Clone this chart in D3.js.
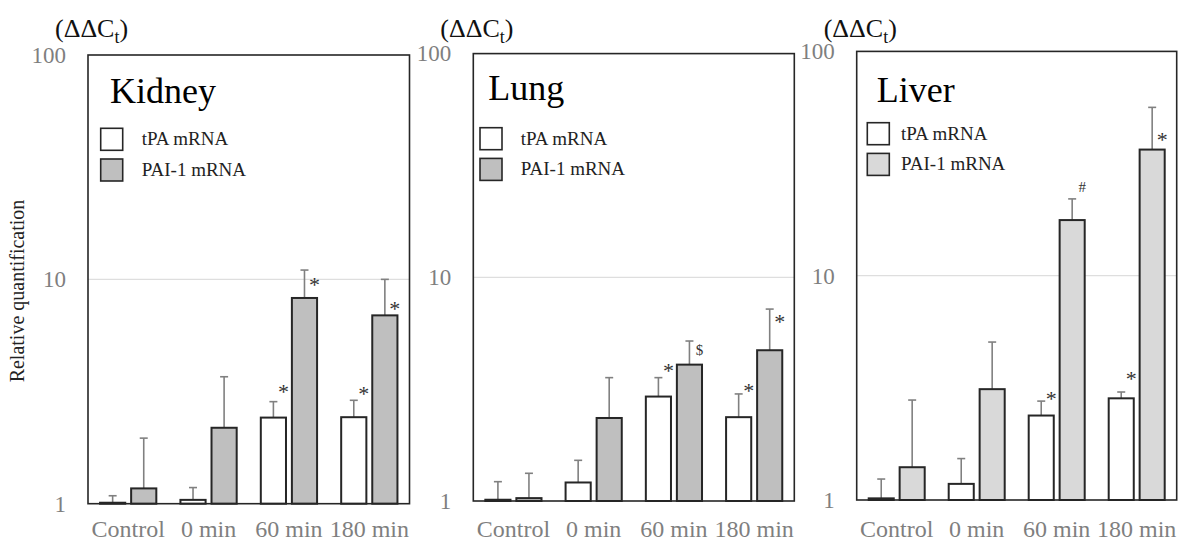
<!DOCTYPE html>
<html>
<head>
<meta charset="utf-8">
<script src="https://cdn.jsdelivr.net/npm/d3@7"></script>
<style>
  body { margin: 0; background: #fff; }
  text { font-family: "Liberation Serif", "Times New Roman", serif; }
</style>
</head>
<body>
<svg id="chart" width="1179" height="543"></svg>
<script>
/* Data */
const groups = ["Control", "0 min", "60 min", "180 min"];
const seriesNames = ["tPA mRNA", "PAI-1 mRNA"];
const yTicks = [1, 10, 100];

const kidneyTpa = [1.01, 1.04, 2.42, 2.43];
const kidneyTpaErr = [1.085, 1.18, 2.85, 2.89];
const kidneyPai = [1.17, 2.18, 8.26, 6.91];
const kidneyPaiErr = [1.96, 3.68, 11.0, 10.0];

const lungTpa = [1.013, 1.21, 2.93, 2.37];
const lungTpaErr = [1.22, 1.52, 3.56, 3.01];
const lungPai = [1.03, 2.35, 4.07, 4.72];
const lungPaiErr = [1.33, 3.56, 5.19, 7.21];

const liverTpa = [1.017, 1.18, 2.38, 2.84];
const liverTpaErr = [1.24, 1.53, 2.76, 3.03];
const liverPai = [1.40, 3.12, 17.7, 36.5];
const liverPaiErr = [2.79, 5.06, 22.0, 56.3];

/* significance marks: [group, series index, symbol, level] */
const kidneyMarks = [["60 min", 0, "*", 3.24], ["60 min", 1, "*", 9.76], ["180 min", 0, "*", 3.18], ["180 min", 1, "*", 7.6]];
const lungMarks = [["60 min", 0, "*", 3.94], ["60 min", 1, "$", 4.73], ["180 min", 0, "*", 3.22], ["180 min", 1, "*", 6.51]];
const liverMarks = [["60 min", 0, "*", 2.92], ["60 min", 1, "#", 24.9], ["180 min", 0, "*", 3.57], ["180 min", 1, "*", 41.8]];

/* Panels (layout) */
const panels = [
  { title: "Kidney", left: 88, right: 409.5, top: 55, bottom: 503.7, titleDx: 22, titleY: 103,
    legX: 100.7, legY: 128.3, legTextX: 141.7, fill: "#bfbfbf",
    tpa: kidneyTpa, tpaErr: kidneyTpaErr, pai: kidneyPai, paiErr: kidneyPaiErr, marks: kidneyMarks },
  { title: "Lung", left: 473.3, right: 794.3, top: 53.6, bottom: 501, titleDx: 15, titleY: 100,
    legX: 480, legY: 127.7, legTextX: 520.7, fill: "#bfbfbf",
    tpa: lungTpa, tpaErr: lungTpaErr, pai: lungPai, paiErr: lungPaiErr, marks: lungMarks },
  { title: "Liver", left: 856.7, right: 1176.7, top: 51.4, bottom: 500, titleDx: 20, titleY: 101.7,
    legX: 867.3, legY: 122.7, legTextX: 901, fill: "#d9d9d9",
    tpa: liverTpa, tpaErr: liverTpaErr, pai: liverPai, paiErr: liverPaiErr, marks: liverMarks }
];

const svg = d3.select("#chart");

/* Y axis title */
svg.append("text")
    .attr("transform", "translate(24, 291) rotate(-90)")
    .attr("text-anchor", "middle")
    .style("font-size", "20px")
    .style("fill", "#222")
    .text("Relative quantification");

panels.forEach(p => {
  const g = svg.append("g");

  const y = d3.scaleLog().domain([1, 100]).range([p.bottom, p.top]);
  const x = d3.scaleBand().domain(groups).range([p.left, p.right])
      .paddingInner(0.3).paddingOuter(0.15);
  const xs = d3.scaleBand().domain([0, 1]).range([0, x.bandwidth()]).paddingInner(0.19);

  /* gridline at 10 */
  g.append("line")
      .attr("x1", p.left).attr("x2", p.right)
      .attr("y1", y(10)).attr("y2", y(10))
      .attr("stroke", "#dedede").attr("stroke-width", 1.2);

  /* y axis labels */
  const yAxis = d3.axisLeft(y).tickValues(yTicks).tickFormat(d3.format("d"))
      .tickSize(0).tickPadding(22);
  const ax = g.append("g").attr("transform", `translate(${p.left},0)`).call(yAxis);
  ax.select(".domain").remove();
  ax.selectAll("text")
      .style("font-family", "'Liberation Serif', serif")
      .style("font-size", "23px")
      .style("fill", "#7f7f7f");

  /* bars */
  const rows = [];
  groups.forEach((grp, i) => {
    rows.push({ grp, s: 0, v: p.tpa[i], e: p.tpaErr[i] });
    rows.push({ grp, s: 1, v: p.pai[i], e: p.paiErr[i] });
  });
  const bx = d => x(d.grp) + xs(d.s);
  const bw = xs.bandwidth();

  /* error bars */
  g.selectAll(".err").data(rows).join("line")
      .attr("x1", d => bx(d) + bw / 2).attr("x2", d => bx(d) + bw / 2)
      .attr("y1", d => y(d.v)).attr("y2", d => y(d.e))
      .attr("stroke", "#808080").attr("stroke-width", 1.6);
  g.selectAll(".cap").data(rows).join("line")
      .attr("x1", d => bx(d) + bw / 2 - 4).attr("x2", d => bx(d) + bw / 2 + 4)
      .attr("y1", d => y(d.e)).attr("y2", d => y(d.e))
      .attr("stroke", "#808080").attr("stroke-width", 1.6);

  g.selectAll(".bar").data(rows).join("rect")
      .attr("x", d => bx(d))
      .attr("y", d => y(d.v))
      .attr("width", bw)
      .attr("height", d => y(1) - y(d.v))
      .attr("fill", d => d.s === 0 ? "#fff" : p.fill)
      .attr("stroke", "#262626").attr("stroke-width", 2);

  /* frame */
  g.append("rect")
      .attr("x", p.left).attr("y", y(100))
      .attr("width", p.right - p.left).attr("height", y(1) - y(100))
      .attr("fill", "none").attr("stroke", "#262626").attr("stroke-width", 1.6);

  /* significance marks */
  g.selectAll(".mark").data(p.marks).join("text")
      .attr("x", d => x(d[0]) + xs(d[1]) + bw / 2 + 10)
      .attr("y", d => y(d[3]))
      .attr("dy", d => d[2] === "*" ? "0.47em" : "0.34em")
      .attr("text-anchor", "middle")
      .style("font-size", d => d[2] === "*" ? "22px" : "15px")
      .style("fill", "#333")
      .text(d => d[2]);

  /* x labels */
  g.selectAll(".xl").data(groups).join("text")
      .attr("x", d => x(d) + x.bandwidth() / 2)
      .attr("y", 537)
      .attr("text-anchor", "middle")
      .style("font-size", "24px")
      .style("fill", "#7f7f7f")
      .text(d => d);

  /* unit label */
  const u = g.append("text")
      .attr("x", p.left - 33).attr("y", 37)
      .style("font-size", "26px").style("fill", "#111");
  u.append("tspan").text("(ΔΔC");
  u.append("tspan").attr("dy", 6).style("font-size", "18px").text("t");
  u.append("tspan").attr("dy", -6).text(")");

  /* title */
  g.append("text")
      .attr("x", p.left + p.titleDx).attr("y", p.titleY)
      .style("font-size", "36px").style("fill", "#000")
      .text(p.title);

  /* legend */
  seriesNames.forEach((s, i) => {
    g.append("rect")
        .attr("x", p.legX).attr("y", p.legY + i * 30.7)
        .attr("width", 22).attr("height", 22)
        .attr("fill", i === 0 ? "#fff" : p.fill)
        .attr("stroke", "#262626").attr("stroke-width", 1.6);
    g.append("text")
        .attr("x", p.legTextX).attr("y", p.legY + i * 30.7 + 17)
        .style("font-size", "19px").style("fill", "#222")
        .text(s);
  });
});
</script>
</body>
</html>
